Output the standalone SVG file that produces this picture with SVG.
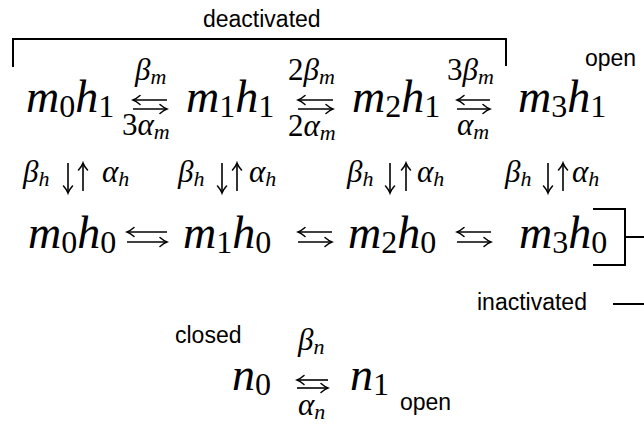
<svg xmlns="http://www.w3.org/2000/svg" width="644" height="424" viewBox="0 0 644 424">
<style>
.t{font-family:'Liberation Serif','DejaVu Serif',serif;font-style:italic;font-size:46px;fill:#000}
.s{font-size:32px;font-style:normal}
.g{font-family:'Liberation Serif','DejaVu Serif',serif;font-style:italic;font-size:31px;fill:#000}
.gs{font-size:22px}
.d{font-style:normal}
.lbl{font-family:'Liberation Sans',Arial,sans-serif;font-size:23px;fill:#000}
.a{stroke:#000;stroke-width:1.6;fill:none;marker-end:url(#ah)}
.br{stroke:#000;stroke-width:2;fill:none}
</style>
<defs>
<marker id="ah" viewBox="-10 -6 12 12" refX="0" refY="0" markerWidth="12" markerHeight="12" markerUnits="userSpaceOnUse" orient="auto">
<path d="M-7,-4.5 Q-3,-1 0,0 Q-3,1 -7,4.5" fill="none" stroke="#000" stroke-width="1.5" stroke-linecap="round"/>
</marker>
</defs>
<rect width="644" height="424" fill="#fff"/>

<g id="brackets">
<path class="br" d="M13,67 V39 H506 V66"/>
<path class="br" d="M593,209 H625 V265 H593 M625,237 H644"/>
<path class="br" d="M613,304 H644"/>
</g>

<g id="labels">
<text class="lbl" x="203" y="27">deactivated</text>
<text class="lbl" x="585" y="66">open</text>
<text class="lbl" x="477" y="310">inactivated</text>
<text class="lbl" x="175" y="343">closed</text>
<text class="lbl" x="400" y="410">open</text>
</g>

<g id="m0h1"><text class="t" x="26" y="112">m<tspan class="s" dy="5">0</tspan><tspan dy="-5">h</tspan><tspan class="s" dy="5">1</tspan></text></g>
<g id="m1h1"><text class="t" x="186" y="112">m<tspan class="s" dy="5">1</tspan><tspan dy="-5">h</tspan><tspan class="s" dy="5">1</tspan></text></g>
<g id="m2h1"><text class="t" x="352" y="112">m<tspan class="s" dy="5">2</tspan><tspan dy="-5">h</tspan><tspan class="s" dy="5">1</tspan></text></g>
<g id="m3h1"><text class="t" x="518" y="112">m<tspan class="s" dy="5">3</tspan><tspan dy="-5">h</tspan><tspan class="s" dy="5">1</tspan></text></g>

<g id="m0h0"><text class="t" x="28" y="248">m<tspan class="s" dy="5">0</tspan><tspan dy="-5">h</tspan><tspan class="s" dy="5">0</tspan></text></g>
<g id="m1h0"><text class="t" x="183" y="248">m<tspan class="s" dy="5">1</tspan><tspan dy="-5">h</tspan><tspan class="s" dy="5">0</tspan></text></g>
<g id="m2h0"><text class="t" x="348" y="248">m<tspan class="s" dy="5">2</tspan><tspan dy="-5">h</tspan><tspan class="s" dy="5">0</tspan></text></g>
<g id="m3h0"><text class="t" x="519" y="248">m<tspan class="s" dy="5">3</tspan><tspan dy="-5">h</tspan><tspan class="s" dy="5">0</tspan></text></g>

<g id="n0"><text class="t" x="232" y="390">n<tspan class="s" dy="5">0</tspan></text></g>
<g id="n1"><text class="t" x="350" y="390">n<tspan class="s" dy="5">1</tspan></text></g>

<g id="connectors">
<line class="a" x1="167" y1="100" x2="133" y2="100"/>
<line class="a" x1="133" y1="109" x2="167" y2="109"/>
<line class="a" x1="333" y1="100" x2="298" y2="100"/>
<line class="a" x1="298" y1="109" x2="333" y2="109"/>
<line class="a" x1="490" y1="100" x2="457" y2="100"/>
<line class="a" x1="457" y1="109" x2="490" y2="109"/>

<line class="a" x1="167" y1="232" x2="127" y2="232"/>
<line class="a" x1="127" y1="242" x2="167" y2="242"/>
<line class="a" x1="332" y1="232" x2="298" y2="232"/>
<line class="a" x1="298" y1="242" x2="332" y2="242"/>
<line class="a" x1="491" y1="232" x2="457" y2="232"/>
<line class="a" x1="457" y1="242" x2="491" y2="242"/>

<line class="a" x1="68" y1="163" x2="68" y2="193"/>
<line class="a" x1="83" y1="191" x2="83" y2="163"/>
<line class="a" x1="222" y1="163" x2="222" y2="193"/>
<line class="a" x1="237" y1="191" x2="237" y2="163"/>
<line class="a" x1="390" y1="163" x2="390" y2="193"/>
<line class="a" x1="406" y1="191" x2="406" y2="163"/>
<line class="a" x1="548" y1="163" x2="548" y2="193"/>
<line class="a" x1="563" y1="191" x2="563" y2="163"/>

<line class="a" x1="328" y1="380" x2="297" y2="380"/>
<line class="a" x1="297" y1="388" x2="328" y2="388"/>

<text class="g" x="135" y="80">β<tspan class="gs" dy="4">m</tspan></text>
<text class="g" x="122" y="135"><tspan class="d">3</tspan>α<tspan class="gs" dy="4">m</tspan></text>
<text class="g" x="288" y="80"><tspan class="d">2</tspan>β<tspan class="gs" dy="4">m</tspan></text>
<text class="g" x="288" y="136"><tspan class="d">2</tspan>α<tspan class="gs" dy="4">m</tspan></text>
<text class="g" x="447" y="80"><tspan class="d">3</tspan>β<tspan class="gs" dy="4">m</tspan></text>
<text class="g" x="457" y="135">α<tspan class="gs" dy="4">m</tspan></text>

<text class="g" x="23" y="182">β<tspan class="gs" dy="4">h</tspan></text>
<text class="g" x="102" y="182">α<tspan class="gs" dy="4">h</tspan></text>
<text class="g" x="178" y="182">β<tspan class="gs" dy="4">h</tspan></text>
<text class="g" x="249" y="182">α<tspan class="gs" dy="4">h</tspan></text>
<text class="g" x="347" y="182">β<tspan class="gs" dy="4">h</tspan></text>
<text class="g" x="417" y="182">α<tspan class="gs" dy="4">h</tspan></text>
<text class="g" x="505" y="182">β<tspan class="gs" dy="4">h</tspan></text>
<text class="g" x="572" y="182">α<tspan class="gs" dy="4">h</tspan></text>

<text class="g" x="298" y="350">β<tspan class="gs" dy="4">n</tspan></text>
<text class="g" x="298" y="415">α<tspan class="gs" dy="4">n</tspan></text>
</g>
</svg>
